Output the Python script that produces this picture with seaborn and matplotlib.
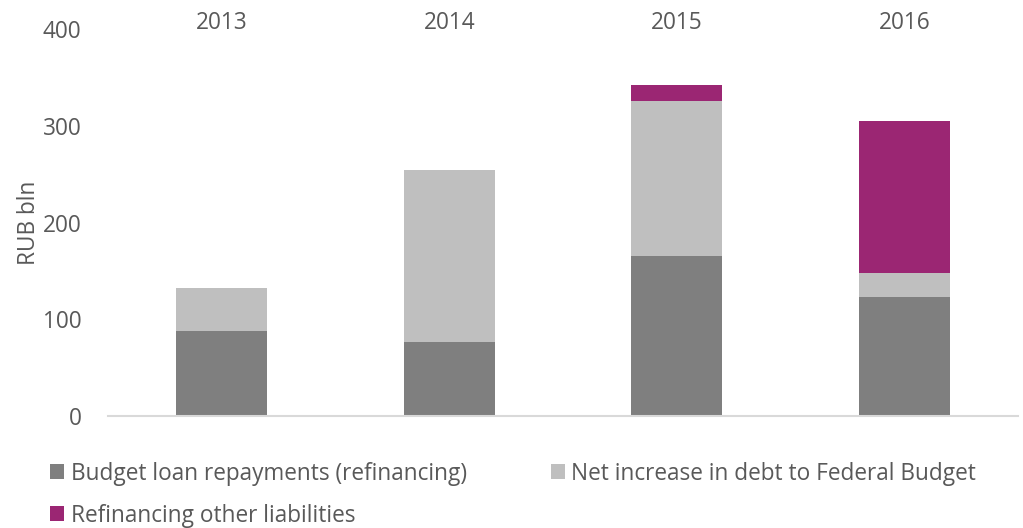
import matplotlib
matplotlib.use("Agg")
import matplotlib.pyplot as plt
import seaborn as sns
import numpy as np
from matplotlib.patches import Patch

years = ["2013", "2014", "2015", "2016"]
budget_loan_repayments = [88, 77, 165, 123]
net_increase_debt = [44, 177, 161, 25]
refinancing_other = [0, 0, 16, 157]

series_names = ["Budget loan repayments (refinancing)",
                "Net increase in debt to Federal Budget",
                "Refinancing other liabilities"]
colors = ["#7F7F7F", "#BFBFBF", "#9B2673"]
yticks = [0, 100, 200, 300, 400]

sns.set_theme(style="white")
plt.rcParams['font.family'] = ['Open Sans', 'DejaVu Sans']
txt = "#595959"
fs = 16.3

fig = plt.figure(figsize=(10.23, 5.28), dpi=100)
ax = fig.add_axes([108/1023, 112/528, 910/1023, 387/528])

bottom = np.zeros(len(years))
for vals, c in zip([budget_loan_repayments, net_increase_debt, refinancing_other], colors):
    sns.barplot(x=years, y=vals, bottom=bottom, color=c, width=0.4,
                saturation=1, ax=ax, linewidth=0)
    bottom = bottom + np.array(vals)

ax.set_ylim(0, 400)
ax.set_xlim(-0.5, 3.5)
ax.set_yticks(yticks)
ax.set_yticklabels([str(v) for v in yticks])
ax.xaxis.tick_top()
ax.tick_params(axis="both", length=0, labelsize=fs, colors=txt)
ax.tick_params(axis="x", pad=-4)
ax.tick_params(axis="y", pad=19)
for s in ["top", "right", "left"]:
    ax.spines[s].set_visible(False)
ax.spines["bottom"].set_color("#D9D9D9")
ax.spines["bottom"].set_linewidth(1.5)
ax.set_ylabel("RUB bln", fontsize=fs, color=txt, labelpad=1)
ax.set_xlabel("")

order = [0, 2, 1]
handles = [Patch(facecolor=colors[i], edgecolor="none") for i in order]
labels = [series_names[i] for i in order]
leg = fig.legend(handles, labels, loc="upper left", bbox_to_anchor=(0.04, 0.143),
                 ncol=2, frameon=False, fontsize=fs, handlelength=0.62, handleheight=0.62,
                 handletextpad=0.3, columnspacing=3.7, labelspacing=0.8, borderaxespad=0)
for t in leg.get_texts():
    t.set_color(txt)

fig.savefig("out.png", dpi=100)
